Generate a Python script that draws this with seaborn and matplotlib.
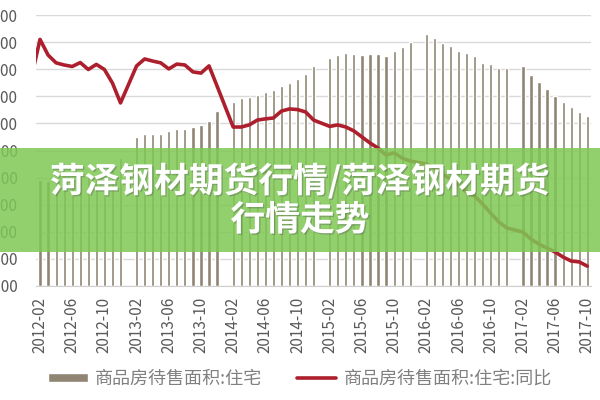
import numpy as np
import pandas as pd
import matplotlib
matplotlib.use("Agg")
import matplotlib.pyplot as plt
import matplotlib.patheffects as pe
from matplotlib.patches import Rectangle
from matplotlib.ticker import FixedLocator
import seaborn as sns

# ---------------- data ----------------
years = [2012, 2013, 2014, 2015, 2016, 2017]
last_month = {2012: 12, 2013: 12, 2014: 12, 2015: 12, 2016: 12, 2017: 10}

# 商品房待售面积:住宅 (万平方米), Feb..Dec (no January release)
stock_2012 = [19560, 19300, 19380, 19460, 20160, 20220, 20260, 20750, 21180, 21310, 23560]
stock_2013 = [27546, 28044, 28044, 28044, 28653, 29059, 29059, 29280, 29797, 30498, 32288]
stock_2014 = [34003, 34686, 34833, 35240, 35849, 36254, 36900, 37509, 38155, 39077, 40590]
stock_2015 = [42011, 42620, 43044, 42804, 42620, 42804, 42804, 42435, 43413, 44040, 45073]
stock_2016 = [46494, 45848, 44834, 44225, 43358, 42989, 42380, 41144, 40922, 40313, 40165]
stock_2017 = [40535, 38930, 37694, 36291, 35055, 34003, 32970, 32158, 31365]

# 商品房待售面积:住宅:同比 (%), Feb..Dec
yoy_2012_jan = 40.1
yoy_2012 = [51.9, 46.7, 44.1, 43.4, 42.9, 44.2, 41.9, 43.6, 41.9, 37.4, 30.8]
yoy_2013 = [43.1, 45.4, 44.7, 44.1, 42.1, 43.7, 43.4, 41.1, 40.7, 43.1, 36.4]
yoy_2014 = [22.8, 22.8, 23.5, 25.1, 25.5, 25.8, 28.1, 28.8, 28.6, 27.8, 25.1]
yoy_2015 = [23.0, 23.5, 22.8, 21.5, 19.5, 17.5, 15.8, 13.5, 14.2, 12.5, 11.5]
yoy_2016 = [10.5, 9.2, 7.2, 5.5, 3.5, 1.2, -0.1, -2.8, -5.8, -8.7, -10.7]
yoy_2017 = [-12.1, -14.4, -16.1, -17.4, -18.7, -20.4, -21.7, -22.0, -23.4]

bar_label = "商品房待售面积:住宅"
line_label = "商品房待售面积:住宅:同比"
title_line1 = "菏泽钢材期货行情/菏泽钢材期货"
title_line2 = "行情走势"

stock = dict(zip(years, [stock_2012, stock_2013, stock_2014, stock_2015, stock_2016, stock_2017]))
yoy = dict(zip(years, [yoy_2012, yoy_2013, yoy_2014, yoy_2015, yoy_2016, yoy_2017]))

rows = []
for y in years:
    for m in range(1, last_month[y] + 1):
        if m == 1:
            s = np.nan
            r = yoy_2012_jan if y == 2012 else np.nan
        else:
            s = stock[y][m - 2]
            r = yoy[y][m - 2]
        rows.append({"month": f"{y}-{m:02d}", "stock": s, "yoy": r})
df = pd.DataFrame(rows)
df["pos"] = np.arange(len(df))

# ---------------- style ----------------
sns.set_style("white")
plt.rcParams["font.family"] = ["Noto Sans CJK SC", "DejaVu Sans"]

BAR_C = "#8f8572"
LINE_C = "#ad1f2d"
TXT_C = "#595959"

fig = plt.figure(figsize=(6, 4), dpi=100)
ax = fig.add_axes([36 / 600, 1 - 286 / 400, 555.3 / 600, 271 / 400])

bars = df.dropna(subset=["stock"])
sns.barplot(data=bars, x="pos", y="stock", native_scale=True, color=BAR_C,
            saturation=1, width=0.4, errorbar=None, ax=ax, label=bar_label)

ax2 = ax.twinx()
line = df.dropna(subset=["yoy"])
sns.lineplot(data=line, x="pos", y="yoy", ax=ax2, color=LINE_C, lw=2.6,
             label=line_label)

# axes limits / ticks
ax.set_ylim(0, 50000)
ax2.set_ylim(-30, 60)
ax.set_xlim(df["pos"].iloc[1] - 0.5, df["pos"].iloc[-1] + 0.5)

yt = np.arange(0, 50001, 5000)
ax.set_yticks(yt)
ax.set_yticklabels([f"{v:,.2f}" for v in yt], fontsize=11, color=TXT_C)
ax.tick_params(axis="y", length=0, pad=13)
ax.yaxis.grid(True, color="#d9d9d9", lw=1)
ax.set_axisbelow(True)

tick_df = df.iloc[1::4]
ax.set_xticks(tick_df["pos"])
ax.set_xticklabels(tick_df["month"], rotation=90, fontsize=11, color=TXT_C)
ax.xaxis.set_minor_locator(FixedLocator((tick_df["pos"] - 0.5).tolist()))
ax.tick_params(axis="x", which="major", length=0, pad=8)
ax.tick_params(axis="x", which="minor", length=4, color="#c8c8c8", width=1, direction="out")

ax.set_xlabel("")
ax.set_ylabel("")
ax2.set_ylabel("")
ax2.set_yticks([])
for a in (ax, ax2):
    for s in ("top", "right", "left"):
        a.spines[s].set_visible(False)
    a.spines["bottom"].set_color("#d0d0d0")
ax2.spines["bottom"].set_visible(False)

# legend
h1, l1 = ax.get_legend_handles_labels()
h2, l2 = ax2.get_legend_handles_labels()
if ax.get_legend():
    ax.get_legend().remove()
if ax2.get_legend():
    ax2.get_legend().remove()
fig.legend(h1 + h2, l1 + l2, loc="center", bbox_to_anchor=(0.5, 1 - 379 / 400),
           ncol=2, frameon=False, fontsize=13, labelcolor="#808080",
           handlelength=2.2, handleheight=0.45, handletextpad=0.4,
           columnspacing=1.9)

# green banner overlay
banner = Rectangle((0, 1 - 252 / 400), 1, 104 / 400, transform=fig.transFigure,
                   facecolor="#7fc855", alpha=0.85, edgecolor="none", zorder=10)
fig.add_artist(banner)
shadow = [pe.withSimplePatchShadow(offset=(1, -1), shadow_rgbFace="#555555", alpha=0.35)]
fig.text(0.5, 1 - 181 / 400, title_line1, ha="center", va="center", fontsize=25,
         fontweight="bold", color="white", zorder=11, path_effects=shadow)
fig.text(0.5, 1 - 220 / 400, title_line2, ha="center", va="center", fontsize=25,
         fontweight="bold", color="white", zorder=11, path_effects=shadow)

fig.savefig("out.png", dpi=100)
